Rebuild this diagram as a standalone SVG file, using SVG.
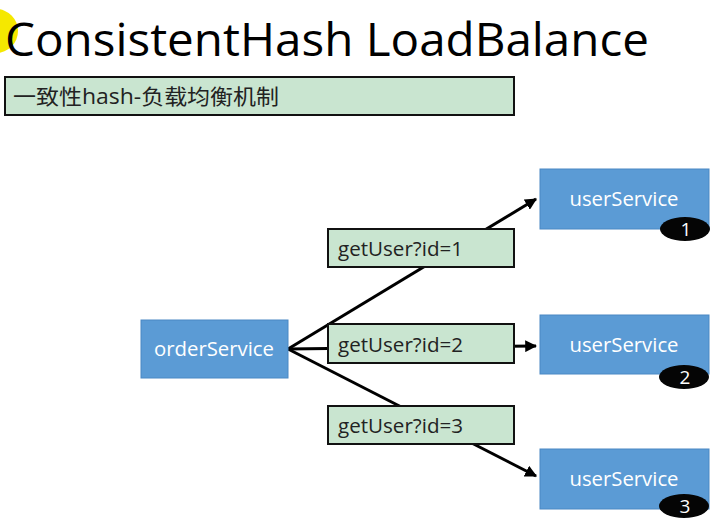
<svg xmlns="http://www.w3.org/2000/svg" width="719" height="526" viewBox="0 0 719 526">
<style>
.node{fill:#5b9bd5;stroke:#4a88c4;stroke-width:1}
.ntxt{font-family:"Open Sans","Liberation Sans",sans-serif;font-size:20px;fill:#ffffff;text-anchor:middle}
.lbl{fill:#c9e5d0;stroke:#111;stroke-width:2}
.ltxt{font-family:"Open Sans","Liberation Sans",sans-serif;font-size:20px;fill:#222}
.badge{fill:#050505}
.btxt{font-family:"Open Sans","Liberation Sans",sans-serif;font-size:19px;fill:#fff;text-anchor:middle}
.conn{stroke:#000;stroke-width:3;fill:none}
</style>
<defs>
<marker id="arr" viewBox="0 0 10 10" refX="9" refY="5" markerWidth="4" markerHeight="4" orient="auto" markerUnits="strokeWidth">
<path d="M0,0 L10,5 L0,10 z" fill="#000"/>
</marker>
</defs>
<rect width="719" height="526" fill="#ffffff"/>
<circle cx="-4" cy="31" r="22" fill="#f5e800"/>
<text x="5" y="56" font-family="'Open Sans','Liberation Sans',sans-serif" font-size="46" fill="#000" textLength="644" lengthAdjust="spacingAndGlyphs">ConsistentHash LoadBalance</text>
<g id="subtitle">
<rect x="5" y="77" width="509" height="38" class="lbl"/>
<text x="13" y="104" font-family="'Open Sans','Noto Sans CJK SC',sans-serif" font-size="21" fill="#222" textLength="266" lengthAdjust="spacingAndGlyphs">一致性hash-负载均衡机制</text>
</g>
<g id="connectors">
<line class="conn" x1="288" y1="349" x2="536" y2="199" marker-end="url(#arr)"/>
<line class="conn" x1="288" y1="349" x2="536" y2="346" marker-end="url(#arr)"/>
<line class="conn" x1="288" y1="349" x2="536" y2="476" marker-end="url(#arr)"/>
</g>
<g id="label1">
<rect x="328" y="229" width="186" height="38" class="lbl"/>
<text x="338" y="256" class="ltxt" textLength="125" lengthAdjust="spacingAndGlyphs">getUser?id=1</text>
</g>
<g id="label2">
<rect x="328" y="324" width="186" height="39" class="lbl"/>
<text x="338" y="352" class="ltxt" textLength="125" lengthAdjust="spacingAndGlyphs">getUser?id=2</text>
</g>
<g id="label3">
<rect x="328" y="406" width="186" height="38" class="lbl"/>
<text x="338" y="433" class="ltxt" textLength="125" lengthAdjust="spacingAndGlyphs">getUser?id=3</text>
</g>
<g id="orderService">
<rect x="141" y="320" width="147" height="58" class="node"/>
<text x="214" y="356" class="ntxt" textLength="120" lengthAdjust="spacingAndGlyphs">orderService</text>
</g>
<g id="userService1">
<rect x="540" y="169" width="169" height="60" class="node"/>
<text x="624" y="206" class="ntxt" textLength="109" lengthAdjust="spacingAndGlyphs">userService</text>
<ellipse cx="685" cy="229" rx="25" ry="12" class="badge"/>
<text x="686" y="236" class="btxt">1</text>
</g>
<g id="userService2">
<rect x="540" y="315" width="169" height="59" class="node"/>
<text x="624" y="352" class="ntxt" textLength="109" lengthAdjust="spacingAndGlyphs">userService</text>
<ellipse cx="684" cy="377" rx="25" ry="12" class="badge"/>
<text x="685" y="384" class="btxt">2</text>
</g>
<g id="userService3">
<rect x="540" y="449" width="169" height="60" class="node"/>
<text x="624" y="486" class="ntxt" textLength="109" lengthAdjust="spacingAndGlyphs">userService</text>
<ellipse cx="684" cy="506" rx="25" ry="12" class="badge"/>
<text x="685" y="513" class="btxt">3</text>
</g>
</svg>
